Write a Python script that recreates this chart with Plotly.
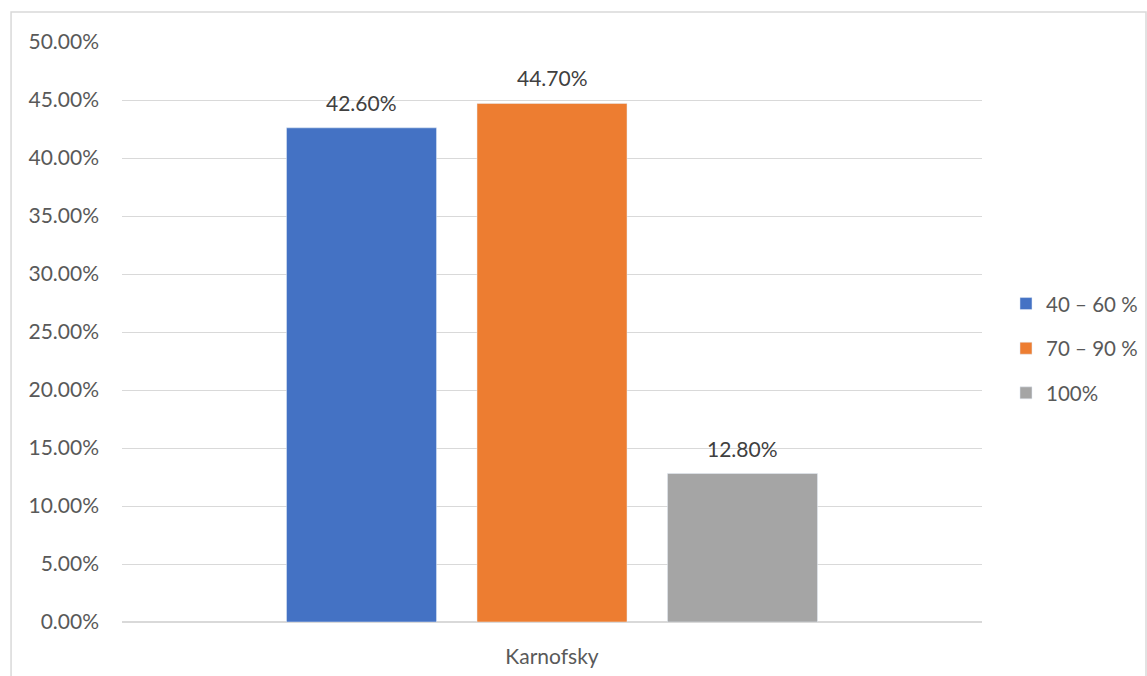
import plotly.graph_objects as go

categories = ["Karnofsky"]
series_names = ["40 – 60 %", "70 – 90 %", "100%"]
series_values = [0.426, 0.447, 0.128]
series_colors = ["#4472C4", "#ED7D31", "#A5A5A5"]

FONT = "Lato"
BARGAP = 0.3355
n = len(series_names)
slot = (1 - BARGAP) / n

fig = go.Figure()
for i, (name, val, col) in enumerate(zip(series_names, series_values, series_colors)):
    fig.add_trace(go.Bar(
        x=categories, y=[val], name=name, marker_color=col,
        legendgroup=name, hoverinfo="skip",
    ))
    fig.add_annotation(
        x=(i - (n - 1) / 2) * slot, y=val, xref="x", yref="y",
        text=f"{val:.2%}", showarrow=False, yanchor="bottom", yshift=11,
        font=dict(family=FONT, size=21, color="#404040"),
    )

# outer chart frame
fig.add_shape(type="rect", xref="paper", yref="paper",
              x0=-0.129, x1=1.1907, y0=-0.12, y1=1.0517,
              line=dict(color="#D9D9D9", width=1.5), layer="below")

fig.update_layout(
    width=1147, height=676,
    margin=dict(l=122, r=165, t=42, b=54, autoexpand=False),
    paper_bgcolor="white", plot_bgcolor="white",
    barmode="group", bargap=BARGAP, bargroupgap=0.2126,
    font=dict(family=FONT, size=21, color="#595959"),
    showlegend=True,
    legend=dict(x=1.0279, y=0.472, xanchor="left", yanchor="middle",
                tracegroupgap=15, font=dict(size=20.5, color="#595959"),
                itemwidth=30),
    xaxis=dict(showgrid=False, showline=False, ticks="", ticklabelstandoff=20),
    yaxis=dict(range=[0, 0.5], dtick=0.05, tickformat=".2%",
               showgrid=True, gridcolor="#D9D9D9", gridwidth=1,
               zeroline=True, zerolinecolor="#D9D9D9", zerolinewidth=1.5,
               showline=False, ticks="", ticklabelstandoff=22),
)

fig.write_html("out.html")
